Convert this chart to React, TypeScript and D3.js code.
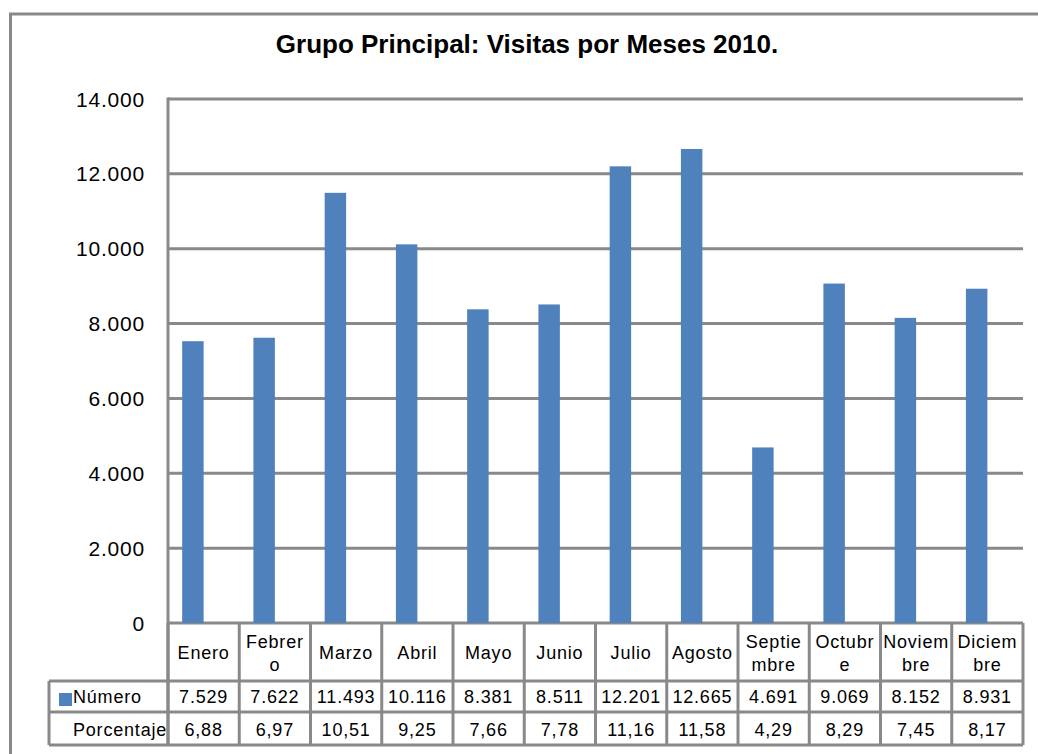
import { useEffect } from "react";
import { scaleBand, scaleLinear, range } from "d3";

const months = ["Enero", "Febrero", "Marzo", "Abril", "Mayo", "Junio", "Julio", "Agosto", "Septiembre", "Octubre", "Noviembre", "Diciembre"];
// wrapped header text as Excel shows it
const monthLines = [["Enero"], ["Febrer", "o"], ["Marzo"], ["Abril"], ["Mayo"], ["Junio"], ["Julio"], ["Agosto"], ["Septie", "mbre"], ["Octubr", "e"], ["Noviem", "bre"], ["Diciem", "bre"]];
const numero = [7529, 7622, 11493, 10116, 8381, 8511, 12201, 12665, 4691, 9069, 8152, 8931];
const porcentaje = [6.88, 6.97, 10.51, 9.25, 7.66, 7.78, 11.16, 11.58, 4.29, 8.29, 7.45, 8.17];
const series = ["Número", "Porcentaje"];
const yTicks = range(0, 14001, 2000);

const fmtNum = (v: number) => v.toLocaleString("de-DE");
const fmtPct = (v: number) => v.toFixed(2).replace(".", ",");

const W = 1038;
const H = 754;
const left = 168;
const right = 1023;
const top = 99;
const base = 623;
const rowNum = 681;
const rowPct = 712;
const tblBottom = 745;
const tblLeft = 49;
const grid = "#898989";
const blue = "#4F81BD";
const font = "'Liberation Sans', Arial, sans-serif";

export default function App() {
  useEffect(() => {
    document.body.style.margin = "0";
  }, []);

  const x0 = scaleBand<string>(months, [left, right]).padding(0);
  const x1 = scaleBand<string>(series, [0, x0.bandwidth()]).paddingInner(0).paddingOuter(0.66);
  const y = scaleLinear([0, 14000], [base, top]);

  const edges = [...months.map((m) => x0(m)!), right];

  return (
    <svg width={W} height={H} style={{ display: "block" }} fontFamily={font}>
      <rect x={0} y={0} width={W} height={H} fill="#fff" />
      <rect x={10.5} y={14} width={W + 20} height={H + 20} fill="none" stroke={grid} strokeWidth={3} />

      <text x={527} y={53} textAnchor="middle" fontSize={26} fontWeight="bold" fill="#000">
        Grupo Principal: Visitas por Meses 2010.
      </text>

      {yTicks.map((t) => (
        <g key={t}>
          <line x1={left} x2={right} y1={y(t)} y2={y(t)} stroke={grid} strokeWidth={3} />
          <text x={145} y={y(t)} dy="0.36em" textAnchor="end" fontSize={21} letterSpacing={0.8} fill="#000">
            {fmtNum(t)}
          </text>
        </g>
      ))}
      <line x1={left} x2={left} y1={top - 1.5} y2={tblBottom} stroke={grid} strokeWidth={3} />

      {months.map((m, i) => (
        <g key={m}>
          <rect x={x0(m)! + x1("Número")!} y={y(numero[i])} width={x1.bandwidth()} height={base - y(numero[i])} fill={blue} />
          <rect x={x0(m)! + x1("Porcentaje")!} y={y(porcentaje[i])} width={x1.bandwidth()} height={base - y(porcentaje[i])} fill="none" />
        </g>
      ))}

      {/* data table */}
      {[rowNum, rowPct, tblBottom].map((r) => (
        <line key={r} x1={tblLeft} x2={right} y1={r} y2={r} stroke={grid} strokeWidth={3} />
      ))}
      <line x1={tblLeft} x2={tblLeft} y1={rowNum} y2={tblBottom} stroke={grid} strokeWidth={3} />
      {edges.map((e, i) => (
        <line key={i} x1={e} x2={e} y1={base} y2={tblBottom} stroke={grid} strokeWidth={3} />
      ))}

      {months.map((m, i) => {
        const cx = x0(m)! + x0.bandwidth() / 2;
        const lines = monthLines[i];
        return (
          <g key={m} fontSize={18} letterSpacing={0.8} textAnchor="middle" fill="#000">
            {lines.length === 1 ? (
              <text x={cx} y={659}>{lines[0]}</text>
            ) : (
              lines.map((l, j) => (
                <text key={j} x={cx} y={648 + j * 23}>{l}</text>
              ))
            )}
            <text x={cx} y={703}>{fmtNum(numero[i])}</text>
            <text x={cx} y={736}>{fmtPct(porcentaje[i])}</text>
          </g>
        );
      })}

      <rect x={59} y={693} width={13} height={13} fill={blue} />
      <text x={73} y={703} fontSize={18} letterSpacing={0.8} fill="#000">{series[0]}</text>
      <text x={73} y={736} fontSize={18} letterSpacing={0.8} fill="#000">{series[1]}</text>
    </svg>
  );
}
